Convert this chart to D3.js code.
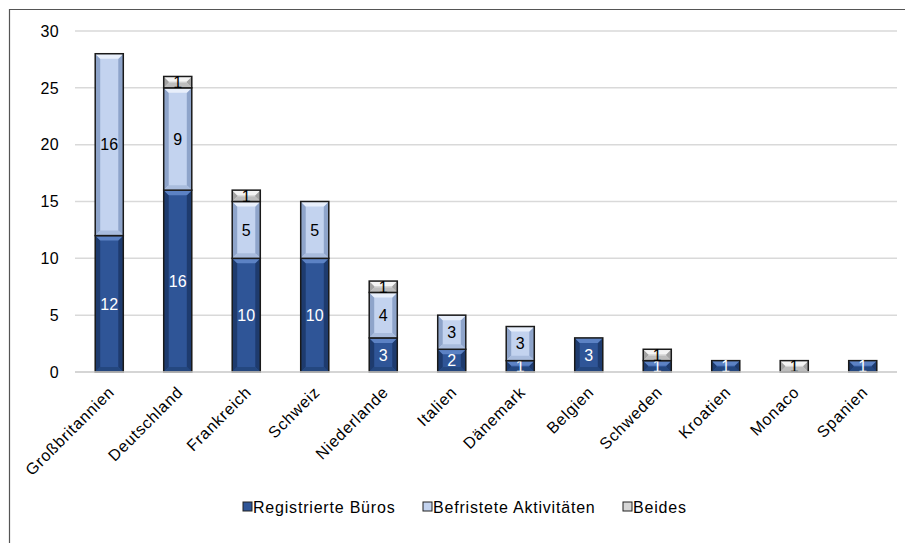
<!DOCTYPE html>
<html><head><meta charset="utf-8">
<script src="https://cdn.jsdelivr.net/npm/d3@7"></script>
<style>body{margin:0;background:#fff}text{font-family:"Liberation Sans",Arial,sans-serif}</style>
</head><body>
<svg id="c" width="905" height="543"></svg>
<script>
const categories = ["Großbritannien","Deutschland","Frankreich","Schweiz","Niederlande","Italien","Dänemark","Belgien","Schweden","Kroatien","Monaco","Spanien"];
const registrierte = [12,16,10,10,3,2,1,3,1,1,0,1];
const befristete   = [16,9,5,5,4,3,3,0,0,0,0,0];
const beides       = [0,1,1,0,1,0,0,0,1,0,1,0];
const seriesNames = ["Registrierte Büros","Befristete Aktivitäten","Beides"];
const yTicks = [0,5,10,15,20,25,30];

const styles = [
  {base:"#2F5597", edge:"#1E3B6E", top:"#5C82C4", bottom:"#24477F", label:"#fff"},
  {base:"#C3D3EF", edge:"#8EA4CA", top:"#E8EFFB", bottom:"#A9BCDD", label:"#000"},
  {base:"#D6D6D6", edge:"#A3A3A3", top:"#F4F4F4", bottom:"#BDBDBD", label:"#000"}
];
const FS = 16, LS = 0.8;

const svg = d3.select("#c");
svg.append("path").attr("d","M9.5,543 L9.5,9.5 L905,9.5").attr("fill","none").attr("stroke","#555").attr("stroke-width",1.2);

const x = d3.scaleBand().domain(categories).range([75,897]).paddingInner(0.59).paddingOuter(0.295);
const y = d3.scaleLinear().domain([0,30]).range([372,31]);

svg.append("g").selectAll("line").data(yTicks).join("line")
  .attr("x1",75).attr("x2",897).attr("y1",d=>y(d)).attr("y2",d=>y(d))
  .attr("stroke","#d9d9d9").attr("stroke-width",1.5);

svg.append("g").selectAll("text").data(yTicks).join("text")
  .attr("x",59).attr("y",d=>y(d)).attr("dy","0.36em").attr("text-anchor","end")
  .attr("font-size",FS).attr("letter-spacing",0.4).attr("fill","#000").text(d=>d);

const stack = d3.stack().keys([0,1,2])(categories.map((c,i)=>({0:registrierte[i],1:befristete[i],2:beides[i]})));

const bars = svg.append("g");
stack.forEach((layer,si)=>{
  const st = styles[si];
  layer.forEach((d,i)=>{
    const v = d[1]-d[0];
    if(v<=0) return;
    const x0 = x(categories[i]), x1 = x0 + x.bandwidth();
    const yt = y(d[1]), yb = y(d[0]);
    const h = yb-yt;
    const b = Math.min(5, h/2.2);
    const g = bars.append("g");
    g.append("rect").attr("x",x0).attr("y",yt).attr("width",x1-x0).attr("height",h).attr("fill",st.base);
    g.append("polygon").attr("points",`${x0},${yt} ${x0+b},${yt+b} ${x0+b},${yb-b} ${x0},${yb}`).attr("fill",st.edge);
    g.append("polygon").attr("points",`${x1},${yt} ${x1-b},${yt+b} ${x1-b},${yb-b} ${x1},${yb}`).attr("fill",st.edge);
    g.append("polygon").attr("points",`${x0},${yt} ${x1},${yt} ${x1-b},${yt+b} ${x0+b},${yt+b}`).attr("fill",st.top);
    g.append("polygon").attr("points",`${x0},${yb} ${x1},${yb} ${x1-b},${yb-b} ${x0+b},${yb-b}`).attr("fill",st.bottom);
    g.append("rect").attr("x",x0).attr("y",yt).attr("width",x1-x0).attr("height",h)
      .attr("fill","none").attr("stroke","#1a1a1a").attr("stroke-width",1.5);
    g.append("text").attr("x",(x0+x1)/2).attr("y",(yt+yb)/2).attr("dy","0.36em")
      .attr("text-anchor","middle").attr("font-size",FS).attr("fill",st.label).text(v);
  });
});

svg.append("line").attr("x1",75).attr("x2",897).attr("y1",y(0)).attr("y2",y(0)).attr("stroke","#d0d0d0").attr("stroke-width",1.5);

svg.append("g").selectAll("text").data(categories).join("text")
  .attr("transform",d=>`translate(${x(d)+x.bandwidth()/2-2},${385}) rotate(-45)`)
  .attr("text-anchor","end").attr("dy","0.72em").attr("font-size",FS).attr("letter-spacing",LS)
  .attr("fill","#000").text(d=>d);

const legX = [243,423,623];
const leg = svg.append("g");
seriesNames.forEach((n,i)=>{
  leg.append("rect").attr("x",legX[i]).attr("y",502).attr("width",9).attr("height",9)
    .attr("fill",styles[i].base).attr("stroke","#222").attr("stroke-width",1);
  leg.append("text").attr("x",legX[i]+10).attr("y",507).attr("dy","0.36em").attr("font-size",FS)
    .attr("letter-spacing",LS).attr("fill","#000").text(n);
});
</script>
</body></html>
